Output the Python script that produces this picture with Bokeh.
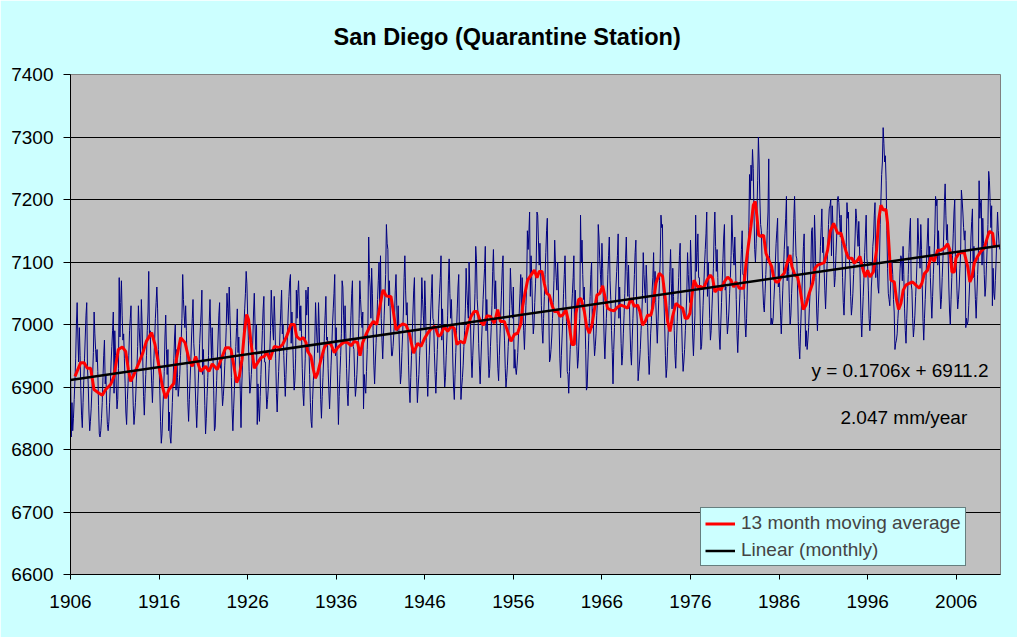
import numpy as np
from bokeh.plotting import figure
from bokeh.models import FixedTicker, Legend, LegendItem, Label, Range1d
from bokeh.embed import file_html
from bokeh.resources import INLINE

title_text = "San Diego (Quarantine Station)"
start_year = 1906
x_ticks = [1906, 1916, 1926, 1936, 1946, 1956, 1966, 1976, 1986, 1996, 2006]
y_ticks = [6600, 6700, 6800, 6900, 7000, 7100, 7200, 7300, 7400]
grid_ticks = [6700, 6800, 6900, 7000, 7100, 7200, 7300]
trend_slope = 0.1706
trend_intercept = 6911.2
eq_text = "y = 0.1706x + 6911.2"
rate_text = "2.047  mm/year"

# monthly mean sea level (mm), Jan 1906 onward
monthly_1906_1915 = [
    6940, 6820, 6875, 6830, 6850, 6880, 6910, 6945, 7000, 7035, 6980, 6940,
    6995, 6950, 6895, 6855, 6835, 6875, 6910, 6945, 6980, 7015, 7035, 6930,
    6905, 6860, 6830, 6845, 6865, 6895, 6920, 6955, 7020, 6985, 6960, 6940,
    6960, 6925, 6870, 6825, 6820, 6830, 6850, 6875, 6915, 6950, 6975, 6905,
    6920, 6870, 6840, 6830, 6845, 6875, 6905, 6940, 6965, 6990, 7020, 6890,
    6990, 6950, 6900, 6865, 6880, 6930, 7075, 6980, 7035, 7070, 7015, 6975,
    6985, 6945, 6905, 6860, 6840, 6880, 6905, 6950, 6990, 7010, 7030, 6925,
    6915, 6870, 6840, 6855, 6875, 6905, 6930, 6965, 7030, 6995, 6970, 6950,
    7040, 7000, 6940, 6885, 6855, 6890, 6920, 6950, 6990, 7020, 7085, 6980,
    6990, 6940, 6905, 6875, 6910, 6945, 6975, 7010, 7035, 7060, 7025, 6960,
]
monthly_1916_1925 = [
    6935, 6895, 6845, 6810, 6825, 6860, 6890, 6925, 6980, 7015, 6960, 6920,
    6960, 6830, 6860, 6820, 6810, 6840, 6875, 6910, 6945, 6980, 7000, 6895,
    6960, 6915, 6885, 6900, 6920, 6950, 6975, 7010, 7080, 7040, 7015, 6995,
    7030, 6990, 6930, 6875, 6845, 6880, 6910, 6940, 6980, 7010, 7040, 6970,
    6950, 6900, 6865, 6835, 6870, 6905, 6935, 6970, 6995, 7020, 7055, 6920,
    6960, 6920, 6870, 6825, 6850, 6885, 6915, 6950, 7005, 7040, 6985, 6945,
    6995, 6950, 6895, 6830, 6835, 6875, 6910, 6945, 6980, 7015, 7035, 6930,
    6945, 6900, 6870, 6885, 6905, 6935, 6960, 6995, 7050, 7025, 7000, 7060,
    7015, 6975, 6915, 6860, 6830, 6865, 6895, 6925, 6965, 6995, 7025, 6955,
    6980, 6930, 6895, 6835, 6900, 6935, 6965, 7000, 7025, 7050, 7085, 7065,
]
monthly_1926_1935 = [
    7015, 6975, 6925, 6890, 6900, 6920, 6945, 6975, 7020, 7050, 7000, 6960,
    7000, 6840, 6905, 6865, 6845, 6885, 6920, 6955, 6990, 7025, 7045, 6940,
    6940, 6895, 6865, 6880, 6900, 6930, 6955, 6990, 7055, 7020, 6995, 6975,
    7045, 7005, 6945, 6890, 6860, 6895, 6925, 6955, 6995, 7025, 7055, 6985,
    7000, 6950, 6915, 6885, 6920, 6955, 6985, 7020, 7045, 7070, 7080, 6970,
    7020, 6980, 6930, 6895, 6910, 6945, 7055, 7010, 7050, 7070, 7030, 6990,
    7030, 6985, 6930, 6890, 6870, 6910, 6945, 7055, 7015, 7040, 7060, 6965,
    6920, 6875, 6845, 6835, 6880, 6910, 6935, 6970, 7035, 7000, 6975, 6955,
    7035, 6995, 6935, 6880, 6850, 6885, 6915, 6945, 6985, 7015, 7045, 6975,
    6980, 6930, 6895, 6865, 6900, 6935, 6965, 7000, 7025, 7050, 7080, 6950,
]
monthly_1936_1945 = [
    6995, 6950, 6900, 6840, 6885, 6920, 6950, 6985, 7070, 7060, 7015, 6975,
    7030, 6985, 6930, 6890, 6870, 6910, 6945, 6980, 7015, 7050, 7070, 6965,
    6960, 6915, 6885, 6900, 6920, 6950, 6975, 7010, 7070, 7040, 7015, 6995,
    7020, 6865, 6920, 6900, 6890, 6925, 6960, 7000, 7140, 7080, 7060, 7010,
    7090, 7050, 6990, 6935, 6905, 6940, 6970, 7000, 7040, 7070, 7100, 7030,
    7110, 7010, 6975, 6945, 6980, 7015, 7045, 7080, 7160, 7130, 7120, 7030,
    7070, 7030, 6985, 6950, 6950, 6965, 6985, 7010, 7055, 7080, 7030, 6990,
    7030, 6990, 6940, 6905, 6920, 6955, 6985, 7020, 7075, 7110, 7055, 7015,
    7035, 6990, 6935, 6895, 6875, 6915, 6950, 6985, 7020, 7055, 7075, 6970,
    6960, 6915, 6875, 6900, 6920, 6950, 6975, 7010, 7075, 7040, 7015, 6995,
]
monthly_1946_1955 = [
    7070, 7030, 6970, 6915, 6885, 6920, 6950, 6980, 7020, 7050, 7080, 7010,
    7005, 6955, 6920, 6890, 6925, 6960, 6990, 7025, 7050, 7075, 7110, 6975,
    7025, 6985, 6935, 6900, 6915, 6950, 6980, 7015, 7070, 7105, 7050, 7010,
    7040, 6995, 6940, 6900, 6880, 6920, 6955, 6990, 7025, 7060, 7080, 6975,
    6975, 6880, 6900, 6915, 6935, 6965, 6990, 7025, 7090, 7055, 7030, 7010,
    7100, 7060, 7000, 6945, 6915, 6950, 6980, 7010, 7050, 7125, 7105, 7040,
    7020, 6970, 6935, 6905, 6940, 6975, 7005, 7040, 7065, 7090, 7125, 6990,
    7040, 7000, 6950, 6915, 6930, 6965, 6995, 7030, 7085, 7120, 7065, 7025,
    7070, 7025, 6970, 6930, 6910, 6950, 6985, 7020, 7055, 7090, 7110, 7005,
    6975, 6930, 6900, 6915, 6935, 6965, 6990, 7025, 7090, 7055, 7030, 7010,
]
monthly_1956_1965 = [
    7060, 6930, 6960, 6930, 6920, 6935, 6955, 6985, 7020, 7050, 7080, 7010,
    7075, 7025, 6990, 6960, 6995, 7030, 7060, 7150, 7120, 7145, 7180, 7045,
    7110, 7070, 7020, 6985, 7000, 7035, 7065, 7100, 7180, 7175, 7135, 7095,
    7130, 7085, 7030, 6990, 6970, 7010, 7045, 7080, 7115, 7150, 7170, 7065,
    7020, 6940, 6945, 6960, 6980, 7010, 7035, 7070, 7135, 7100, 7075, 7055,
    7100, 7060, 7000, 6945, 6915, 6950, 6980, 7010, 7050, 7080, 7110, 7040,
    7005, 6925, 6920, 6890, 6925, 6960, 6990, 7025, 7050, 7075, 7110, 6975,
    7055, 7015, 6965, 6930, 6945, 6980, 7010, 7175, 7100, 7135, 7080, 7040,
    7060, 7015, 6960, 6895, 6900, 6940, 6975, 7010, 7045, 7080, 7100, 6995,
    7025, 6980, 6950, 6965, 6985, 7015, 7040, 7160, 7140, 7105, 7080, 7060,
]
monthly_1966_1975 = [
    7130, 7090, 7030, 6975, 6945, 6980, 7010, 7040, 7080, 7110, 7140, 7070,
    7040, 6990, 6955, 6905, 6960, 6995, 7025, 7060, 7085, 7110, 7145, 7010,
    7060, 7020, 6970, 6935, 6950, 6985, 7015, 7050, 7105, 7140, 7085, 7045,
    7095, 7050, 6995, 6955, 6935, 6975, 7010, 7045, 7080, 7115, 7135, 7030,
    7000, 6910, 6925, 6940, 6960, 6990, 7015, 7050, 7115, 7080, 7055, 7035,
    7095, 7065, 6995, 6950, 6920, 6945, 6985, 7005, 7055, 7075, 7115, 7035,
    7085, 7035, 7000, 6970, 7005, 7040, 7070, 7105, 7175, 7155, 7160, 7055,
    7040, 7000, 6950, 6915, 6930, 6965, 6995, 7030, 7085, 7120, 7065, 7025,
    7090, 7045, 6990, 6950, 6930, 6970, 7005, 7040, 7075, 7110, 7130, 7025,
    7000, 6955, 6925, 6940, 6960, 6990, 7015, 7050, 7115, 7080, 7055, 7035,
]
monthly_1976_1985 = [
    7135, 7095, 7035, 6980, 6950, 6985, 7015, 7175, 7085, 7115, 7145, 7075,
    7075, 7025, 6960, 6965, 6995, 7030, 7060, 7095, 7120, 7145, 7180, 7045,
    7100, 7060, 7010, 6975, 6990, 7025, 7055, 7090, 7145, 7180, 7125, 7085,
    7120, 7075, 7020, 6980, 6960, 7000, 7035, 7070, 7105, 7140, 7160, 7055,
    7060, 7015, 6985, 7000, 7020, 7050, 7075, 7110, 7175, 7140, 7115, 7095,
    7140, 7100, 7040, 6985, 6955, 6990, 7020, 7050, 7090, 7120, 7150, 7080,
    7080, 7040, 7000, 6980, 7010, 7060, 7110, 7150, 7240, 7200, 7255, 7230,
    7280, 7250, 7180, 7120, 7100, 7130, 7180, 7230, 7300, 7260, 7200, 7160,
    7150, 7100, 7060, 7030, 7020, 7050, 7080, 7110, 7150, 7180, 7265, 7110,
    7090, 7000, 7010, 7000, 7010, 7040, 7065, 7100, 7130, 7150, 7170, 7060,
]
monthly_1986_1995 = [
    7100, 7050, 7015, 6985, 7020, 7055, 7085, 7120, 7145, 7170, 7205, 7070,
    7125, 7085, 7035, 7000, 7015, 7050, 7080, 7115, 7170, 7205, 7150, 7110,
    7105, 7060, 7005, 6965, 6945, 6985, 7020, 7055, 7090, 7125, 7145, 7040,
    6965, 6990, 6960, 6975, 6995, 7025, 7050, 7085, 7150, 7155, 7090, 7070,
    7175, 7135, 7075, 7020, 6990, 7025, 7055, 7085, 7125, 7155, 7185, 7115,
    7140, 7090, 7055, 7025, 7060, 7095, 7125, 7160, 7185, 7190, 7200, 7110,
    7190, 7160, 7100, 7060, 7075, 7110, 7140, 7200, 7205, 7195, 7170, 7140,
    7175, 7130, 7075, 7035, 7015, 7055, 7090, 7125, 7195, 7170, 7180, 7110,
    7090, 7045, 7015, 7030, 7050, 7080, 7105, 7140, 7185, 7170, 7145, 7125,
    7165, 7125, 7065, 7010, 6980, 7015, 7045, 7075, 7115, 7145, 7175, 7105,
]
monthly_1996_2005 = [
    7095, 7055, 7010, 6990, 7015, 7060, 7080, 7125, 7140, 7175, 7195, 7075,
    7130, 7090, 7060, 7050, 7100, 7160, 7200, 7240, 7260, 7315, 7290, 7260,
    7270, 7230, 7150, 7090, 7050, 7040, 7030, 7060, 7090, 7100, 7080, 7040,
    7020, 6960, 6970, 6975, 6985, 7010, 7030, 7060, 7090, 7110, 7105, 7070,
    7125, 7080, 7025, 6990, 6970, 7010, 7045, 7080, 7115, 7150, 7170, 7065,
    7055, 7010, 6980, 6995, 7015, 7045, 7070, 7105, 7170, 7135, 7110, 7090,
    7160, 7120, 7060, 7005, 6975, 7010, 7040, 7070, 7110, 7140, 7170, 7100,
    7125, 7075, 7040, 7010, 7045, 7080, 7110, 7145, 7205, 7190, 7200, 7095,
    7150, 7110, 7060, 7025, 7040, 7075, 7105, 7140, 7195, 7225, 7175, 7135,
    7160, 7115, 7060, 7020, 7000, 7040, 7075, 7110, 7145, 7180, 7200, 7095,
]
monthly_2006_2010 = [
    7100, 7055, 7025, 7040, 7060, 7090, 7115, 7215, 7200, 7180, 7155, 7135,
    7150, 6995, 7010, 7000, 7005, 7030, 7060, 7095, 7140, 7165, 7185, 7075,
    7125, 7075, 7040, 7010, 7045, 7080, 7110, 7230, 7170, 7195, 7200, 7095,
    7170, 7130, 7080, 7045, 7060, 7095, 7125, 7160, 7245, 7230, 7195, 7155,
    7190, 7030, 7090, 7050, 7040, 7070, 7100, 7140, 7180, 7150, 7130, 7120,
]

# 13 month moving average (decimal year, mm)
ma_years = [
    1906.51, 1907.15, 1907.52, 1907.90, 1908.28, 1908.65, 1909.22, 1909.59, 1909.97, 1910.53,
    1910.91, 1911.40, 1911.85, 1912.23, 1912.53, 1912.79, 1913.17, 1913.73, 1914.18, 1914.56,
    1915.16, 1915.54, 1915.99, 1916.37, 1916.74, 1917.12, 1917.68, 1917.95, 1918.44, 1918.93,
    1919.38, 1919.75, 1920.13, 1920.69, 1921.26, 1921.63, 1922.01, 1922.57, 1923.14, 1923.52,
    1923.89, 1924.12, 1924.38, 1924.76, 1925.06, 1925.36, 1925.63, 1925.89, 1926.10, 1926.38,
    1926.75, 1927.13, 1927.51, 1927.88, 1928.15, 1928.52, 1929.01, 1929.58, 1929.95, 1930.40,
    1930.89, 1931.27, 1931.53, 1931.91, 1932.29, 1932.59, 1932.78, 1933.15, 1933.42, 1933.64,
    1933.90, 1934.28, 1934.66, 1935.03, 1935.41, 1935.79, 1936.16, 1936.54, 1936.92, 1937.29,
    1937.67, 1938.05, 1938.42, 1938.69, 1938.99, 1939.36, 1939.81, 1940.19, 1940.57, 1940.87,
    1941.24, 1941.35, 1941.62, 1941.88, 1942.18, 1942.48, 1942.75, 1943.12, 1943.50, 1943.88,
    1944.25, 1944.52, 1944.74, 1945.19, 1945.57, 1945.95, 1946.32, 1946.70, 1947.15, 1947.53,
    1947.83, 1948.20, 1948.58, 1948.96, 1949.33, 1949.63, 1950.01, 1950.46, 1950.91, 1951.22,
    1951.59, 1951.89, 1952.27, 1952.65, 1953.02, 1953.40, 1953.85, 1954.23, 1954.53, 1954.98,
    1955.35, 1955.73, 1956.11, 1956.48, 1956.86, 1957.05, 1957.31, 1957.61, 1957.99, 1958.37,
    1958.67, 1958.93, 1959.23, 1959.49, 1959.75, 1960.06, 1960.36, 1960.62, 1961.00, 1961.26,
    1961.56, 1961.94, 1962.31, 1962.61, 1962.88, 1963.07, 1963.37, 1963.63, 1964.01, 1964.27,
    1964.57, 1964.87, 1965.14, 1965.44, 1965.78, 1966.08, 1966.38, 1966.64, 1967.02, 1967.39,
    1967.77, 1968.15, 1968.52, 1968.90, 1969.28, 1969.65, 1970.03, 1970.29, 1970.59, 1970.89,
    1971.16, 1971.53, 1971.72, 1972.10, 1972.48, 1972.85, 1973.15, 1973.42, 1973.68, 1973.98,
    1974.36, 1974.73, 1975.11, 1975.41, 1975.67, 1975.94, 1976.24, 1976.40, 1976.73, 1977.10,
    1977.48, 1977.86, 1978.23, 1978.50, 1978.76, 1979.14, 1979.44, 1979.81, 1980.19, 1980.57,
    1980.87, 1981.13, 1981.51, 1982.00, 1982.26, 1982.52, 1982.82, 1983.09, 1983.31, 1983.50,
    1983.69, 1983.95, 1984.25, 1984.52, 1984.89, 1985.16, 1985.38, 1985.65, 1985.91, 1986.21,
    1986.59, 1986.96, 1987.23, 1987.45, 1987.79, 1988.09, 1988.39, 1988.73, 1989.03, 1989.41,
    1989.79, 1990.05, 1990.35, 1990.73, 1991.10, 1991.48, 1991.78, 1992.16, 1992.61, 1992.99,
    1993.29, 1993.60, 1993.85, 1994.23, 1994.49, 1994.87, 1995.13, 1995.43, 1995.73, 1996.00,
    1996.26, 1996.64, 1997.01, 1997.24, 1997.50, 1997.77, 1998.07, 1998.25, 1998.44, 1998.63,
    1999.01, 1999.27, 1999.50, 1999.76, 2000.02, 2000.32, 2000.70, 2001.08, 2001.45, 2001.83,
    2002.13, 2002.39, 2002.77, 2003.15, 2003.52, 2003.90, 2004.28, 2004.65, 2005.03, 2005.29,
    2005.52, 2005.78, 2005.97, 2006.35, 2006.91, 2007.29, 2007.55, 2007.78, 2008.04, 2008.42,
    2008.79, 2009.17, 2009.43, 2009.73, 2010.11, 2010.30, 2010.49,
]
ma_values = [
    6917, 6939, 6939, 6930, 6930, 6896, 6890, 6887, 6896, 6904,
    6917, 6960, 6964, 6957, 6928, 6909, 6920, 6939, 6955, 6973,
    6987, 6968, 6933, 6901, 6882, 6896, 6906, 6944, 6979, 6971,
    6944, 6933, 6949, 6925, 6933, 6925, 6937, 6928, 6949, 6963,
    6963, 6960, 6939, 6907, 6917, 6944, 6987, 7016, 7008, 6971,
    6930, 6939, 6947, 6949, 6956, 6944, 6965, 6963, 6968, 6981,
    7000, 7000, 6981, 6976, 6979, 6971, 6957, 6949, 6928, 6914,
    6922, 6944, 6963, 6971, 6968, 6955, 6963, 6968, 6972, 6971,
    6966, 6973, 6971, 6950, 6971, 6984, 6997, 7005, 7000, 7024,
    7053, 7055, 7046, 7045, 7045, 7018, 6991, 6997, 7001, 6999,
    6986, 6968, 6954, 6970, 6965, 6977, 6986, 6993, 6997, 6981,
    6984, 6997, 6989, 6997, 6994, 6968, 6973, 6970, 6999, 7013,
    7021, 7021, 7005, 6999, 7014, 7013, 7002, 7024, 7005, 7005,
    6989, 6973, 6984, 6986, 7002, 7029, 7050, 7071, 7079, 7087,
    7075, 7085, 7085, 7066, 7050, 7047, 7031, 7021, 7021, 7013,
    7015, 7023, 6999, 6968, 6968, 7018, 7040, 7042, 7021, 6997,
    6986, 6999, 7023, 7047, 7050, 7062, 7042, 7026, 7023, 7022,
    7028, 7031, 7029, 7026, 7042, 7029, 7031, 7021, 6999, 7005,
    7015, 7015, 7026, 7066, 7082, 7077, 7042, 7005, 6989, 7013,
    7034, 7029, 7026, 7010, 7010, 7018, 7055, 7071, 7061, 7061,
    7058, 7071, 7079, 7074, 7052, 7058, 7055, 7068, 7076, 7071,
    7060, 7068, 7058, 7058, 7096, 7125, 7157, 7191, 7197, 7173,
    7143, 7141, 7143, 7114, 7101, 7093, 7076, 7068, 7068, 7076,
    7082, 7101, 7111, 7093, 7079, 7076, 7055, 7024, 7031, 7050,
    7066, 7090, 7095, 7097, 7099, 7119, 7149, 7162, 7146, 7146,
    7130, 7115, 7106, 7106, 7098, 7103, 7109, 7090, 7076, 7087,
    7076, 7084, 7119, 7167, 7191, 7183, 7184, 7162, 7119, 7071,
    7068, 7039, 7024, 7034, 7055, 7063, 7066, 7068, 7063, 7058,
    7066, 7081, 7087, 7109, 7101, 7119, 7119, 7122, 7129, 7119,
    7084, 7084, 7106, 7115, 7115, 7093, 7068, 7076, 7098, 7109,
    7117, 7122, 7135, 7149, 7146, 7126, 7125,
]

monthly = (monthly_1906_1915 + monthly_1916_1925 + monthly_1926_1935 + monthly_1936_1945
           + monthly_1946_1955 + monthly_1956_1965 + monthly_1966_1975 + monthly_1976_1985
           + monthly_1986_1995 + monthly_1996_2005 + monthly_2006_2010)
n_months = len(monthly)
month_index = np.arange(1, n_months + 1)
month_x = start_year + (month_index - 1) / 12.0
trend_idx = np.array([1, n_months])
trend_x = start_year + (trend_idx - 1) / 12.0
trend_y = trend_intercept + trend_slope * trend_idx

FONT = "Liberation Sans"

p = figure(width=1017, height=637, output_backend="svg", toolbar_location=None,
           x_range=Range1d(start_year, 2011), y_range=Range1d(6600, 7400),
           min_border_left=70, min_border_right=17, min_border_top=74, min_border_bottom=63,
           background_fill_color="#C0C0C0", border_fill_color="#CCFFFF",
           outline_line_color="#808080", outline_line_width=1)

p.title.text = title_text
p.title.align = "left"
p.title.offset = 263
p.title.vertical_align = "top"
p.title.standoff = 46
p.title.text_font = FONT
p.title.text_font_size = "23.5px"
p.title.text_font_style = "bold"
p.title.text_color = "black"

p.xgrid.grid_line_color = None
p.ygrid.ticker = FixedTicker(ticks=grid_ticks)
p.ygrid.grid_line_color = "black"
p.ygrid.grid_line_width = 1

p.xaxis.ticker = FixedTicker(ticks=x_ticks)
p.yaxis.ticker = FixedTicker(ticks=y_ticks)
for ax in (p.xaxis[0], p.yaxis[0]):
    ax.axis_line_color = "black"
    ax.axis_line_width = 1
    ax.major_tick_line_color = "black"
    ax.minor_tick_line_color = None
    ax.major_tick_in = 0
    ax.major_label_text_font = FONT
    ax.major_label_text_font_size = "19px"
    ax.major_label_text_color = "black"
p.xaxis.major_tick_out = 5
p.xaxis.major_label_standoff = 15
p.yaxis.major_tick_out = 7
p.yaxis.major_label_standoff = 10

r_monthly = p.line(month_x, monthly, line_color="#000080", line_width=1)
r_ma = p.line(ma_years, ma_values, line_color="#FF0000", line_width=3)
r_trend = p.line(trend_x, trend_y, line_color="black", line_width=2.5)

legend = Legend(items=[LegendItem(label="13 month moving average", renderers=[r_ma]),
                       LegendItem(label="Linear (monthly)", renderers=[r_trend])],
                location=(630, 8), margin=0, padding=4, spacing=5,
                glyph_width=30, glyph_height=19, label_height=19, label_standoff=6,
                label_text_font=FONT, label_text_font_size="19px",
                background_fill_color="#CCFFFF", background_fill_alpha=1,
                border_line_color="black", border_line_width=1)
p.add_layout(legend, "center")

p.add_layout(Label(x=918, y=204, x_units="screen", y_units="screen", text=eq_text,
                   text_align="right", text_baseline="middle", text_font=FONT,
                   text_font_size="19px", text_color="black"))
p.add_layout(Label(x=902, y=157, x_units="screen", y_units="screen", text=rate_text,
                   text_align="right", text_baseline="middle", text_font=FONT,
                   text_font_size="19px", text_color="black"))

open("out.html", "w").write(file_html(p, INLINE))
